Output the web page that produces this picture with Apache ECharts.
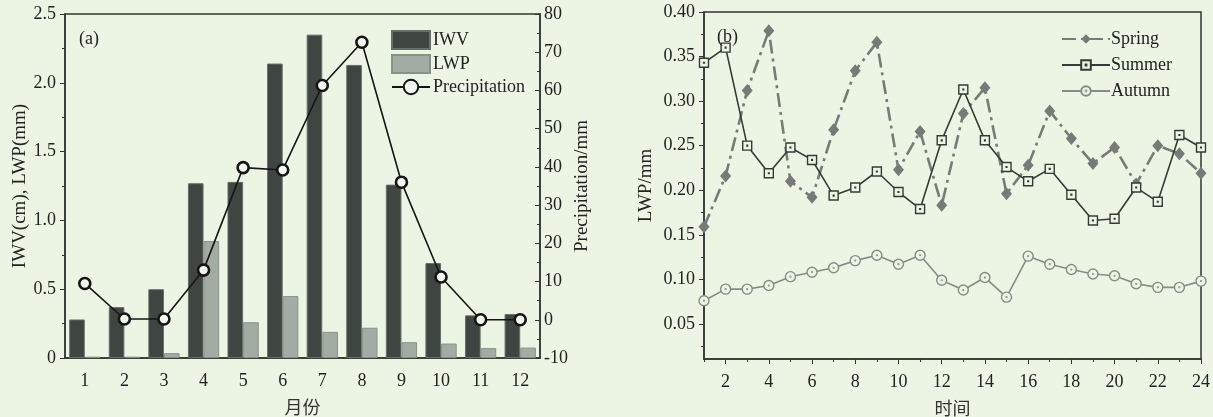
<!DOCTYPE html>
<html>
<head>
<meta charset="utf-8">
<script src="https://cdn.jsdelivr.net/npm/echarts@6/dist/echarts.min.js"></script>
<style>
html,body{margin:0;padding:0;background:#ecf5e4;}
#main{width:1213px;height:417px;}
</style>
</head>
<body>
<div id="main"></div>
<script>
// (a) 月均值
var months = ['1','2','3','4','5','6','7','8','9','10','11','12'];
var iwv = [0.28, 0.37, 0.50, 1.27, 1.28, 2.14, 2.35, 2.13, 1.26, 0.69, 0.31, 0.32];
var lwp = [0.01, 0.01, 0.035, 0.85, 0.26, 0.45, 0.19, 0.22, 0.115, 0.105, 0.072, 0.076];
var precip = [9.5, 0.2, 0.2, 13, 39.8, 39.2, 61.3, 72.6, 36, 11.2, 0, 0];

// (b) 日变化
var hours = ['1','2','3','4','5','6','7','8','9','10','11','12','13','14','15','16','17','18','19','20','21','22','23','24'];
var spring = [0.159, 0.216, 0.312, 0.379, 0.210, 0.192, 0.268, 0.334, 0.366, 0.223, 0.266, 0.183,
	0.286, 0.315, 0.196, 0.228, 0.289, 0.258, 0.230, 0.248, 0.207, 0.250, 0.241, 0.219];
var summer = [0.343, 0.360, 0.250, 0.219, 0.248, 0.234, 0.194, 0.203, 0.221, 0.198, 0.179, 0.256,
	0.313, 0.256, 0.226, 0.210, 0.224, 0.195, 0.166, 0.168, 0.203, 0.187, 0.262, 0.248];
var autumn = [0.076, 0.089, 0.089, 0.093, 0.103, 0.108, 0.113, 0.121, 0.127, 0.117, 0.127, 0.099,
	0.088, 0.102, 0.080, 0.126, 0.117, 0.111, 0.106, 0.104, 0.095, 0.091, 0.091, 0.098];
var lwpTicks = [0.05, 0.10, 0.15, 0.20, 0.25, 0.30, 0.35, 0.40];
var lwpMinor = [0.025, 0.075, 0.125, 0.175, 0.225, 0.275, 0.325, 0.375];

var bg = '#ecf5e4';
var axisColor = '#333';
var serif = 'Liberation Serif';
var cjk = 'Noto Sans CJK SC';

// 方框带点、圆圈带点的标记
var squareDot = 'path://M0,0H10V10H0Z M4.6,4.6H5.4V5.4H4.6Z';
var circleDot = 'path://M10,5A5,5,0,1,1,0,5A5,5,0,1,1,10,5Z M5.4,5A0.4,0.4,0,1,1,4.6,5A0.4,0.4,0,1,1,5.4,5Z';

var lineAxis = {lineStyle:{color:axisColor, width:1.5}};
var labelStyle = {color:'#222', fontFamily:serif, fontSize:18};
var gridA = {left:65, right:673, top:14, bottom:59, outerBoundsMode:'none', containLabel:false};
var gridB = {left:704, right:12, top:12, bottom:58, outerBoundsMode:'none', containLabel:false};

var chart = echarts.init(document.getElementById('main'));
var option = {
	backgroundColor: bg,
	animation: false,
	title: [{
		text:'(a)', left:74, top:25,
		textStyle:{fontFamily:serif, fontSize:18, fontWeight:'normal', color:'#222'}
	},{
		text:'(b)', left:712, top:23,
		textStyle:{fontFamily:serif, fontSize:18, fontWeight:'normal', color:'#222'}
	}],
	legend: [{
		data:[{name:'IWV', icon:'rect'}, {name:'LWP', icon:'rect'}, 'Precipitation'],
		orient:'vertical',
		left:386, top:25,
		itemWidth:38, itemHeight:18, itemGap:4,
		textStyle:{fontFamily:serif, fontSize:18, color:'#222', padding:[0,0,0,-2]}
	},{
		data:['Spring','Summer','Autumn'],
		orient:'vertical',
		left:1056, top:25,
		itemWidth:48, itemHeight:12, itemGap:8,
		textStyle:{fontFamily:serif, fontSize:18, color:'#222', padding:[0,0,0,-4]}
	}],
	// 0,1 画图；2,3 同位置，只用来放次刻度
	grid: [
		Object.assign({show:true, borderColor:axisColor, borderWidth:1.5}, gridA),
		Object.assign({show:true, borderColor:axisColor, borderWidth:1.5}, gridB),
		Object.assign({}, gridA),
		Object.assign({}, gridB)
	],
	xAxis: [{
		type:'category', gridIndex:0, data:months,
		name:'月份', nameLocation:'middle', nameGap:40,
		nameTextStyle:{fontFamily:cjk, fontSize:18, color:'#333'},
		axisLine:lineAxis,
		axisTick:{alignWithLabel:true, length:5, lineStyle:{color:axisColor}},
		axisLabel:Object.assign({margin:14}, labelStyle)
	},{
		type:'category', gridIndex:1, data:hours, boundaryGap:false,
		name:'时间', nameLocation:'middle', nameGap:40,
		nameTextStyle:{fontFamily:cjk, fontSize:18, color:'#333'},
		axisLine:lineAxis,
		axisTick:{length:5, interval:function(i){return i % 2 === 1;}, lineStyle:{color:axisColor}},
		axisLabel:Object.assign({margin:14, interval:function(i){return i % 2 === 1;}}, labelStyle)
	},{
		type:'category', gridIndex:2, data:months,
		axisLine:{show:false},
		axisTick:{length:3, lineStyle:{color:axisColor}},
		axisLabel:{show:false}
	},{
		type:'category', gridIndex:3, data:hours, boundaryGap:false,
		axisLine:{show:false},
		axisTick:{length:3, interval:function(i){return i % 2 === 0;}, lineStyle:{color:axisColor}},
		axisLabel:{show:false}
	}],
	yAxis: [{
		type:'value', gridIndex:0, min:0, max:2.5, interval:0.5,
		name:'IWV(cm), LWP(mm)', nameLocation:'middle', nameGap:35, nameRotate:90,
		nameTextStyle:{fontFamily:serif, fontSize:19, color:'#222'},
		axisLine:Object.assign({show:true}, lineAxis),
		axisTick:{show:true, length:5, lineStyle:{color:axisColor}},
		minorTick:{show:true, splitNumber:2, length:3, lineStyle:{color:axisColor}},
		splitLine:{show:false},
		axisLabel:Object.assign({margin:9, formatter:function(v){return v === 0 ? '0' : v.toFixed(1);}}, labelStyle)
	},{
		type:'value', gridIndex:0, min:-10, max:80, interval:10, position:'right',
		name:'Precipitation/mm', nameLocation:'middle', nameGap:33, nameRotate:90,
		nameTextStyle:{fontFamily:serif, fontSize:19, color:'#222'},
		axisLine:Object.assign({show:true}, lineAxis),
		axisTick:{show:true, inside:true, length:5, lineStyle:{color:axisColor}},
		minorTick:{show:true, splitNumber:2, length:3, lineStyle:{color:axisColor}},
		splitLine:{show:false},
		axisLabel:Object.assign({margin:4}, labelStyle)
	},{
		type:'value', gridIndex:1, min:0.0106, max:0.4,
		name:'LWP/mm', nameLocation:'middle', nameGap:48, nameRotate:90,
		nameTextStyle:{fontFamily:serif, fontSize:19, color:'#222'},
		axisLine:Object.assign({show:true}, lineAxis),
		axisTick:{show:true, length:5, customValues:lwpTicks, lineStyle:{color:axisColor}},
		splitLine:{show:false},
		axisLabel:Object.assign({margin:9, customValues:lwpTicks, formatter:function(v){return v.toFixed(2);}}, labelStyle)
	},{
		type:'value', gridIndex:2, show:false
	},{
		type:'value', gridIndex:3, min:0.0106, max:0.4,
		axisLine:{show:false},
		axisTick:{show:true, length:3, customValues:lwpMinor, lineStyle:{color:axisColor}},
		splitLine:{show:false},
		axisLabel:{show:false}
	}],
	series: [{
		name:'IWV', type:'bar', xAxisIndex:0, yAxisIndex:0,
		data:iwv, barGap:'0%', barCategoryGap:'21%',
		itemStyle:{color:'#3f4540', borderColor:'#66706a', borderWidth:1}
	},{
		name:'LWP', type:'bar', xAxisIndex:0, yAxisIndex:0,
		data:lwp,
		itemStyle:{color:'#a3aca3', borderColor:'#899289', borderWidth:1}
	},{
		name:'Precipitation', type:'line', xAxisIndex:0, yAxisIndex:1,
		data:precip, symbol:'circle', symbolSize:11, z:5,
		lineStyle:{color:'#151515', width:1.6},
		itemStyle:{color:'#f2f7ee', borderColor:'#151515', borderWidth:2.6}
	},{
		name:'Spring', type:'line', xAxisIndex:1, yAxisIndex:2,
		data:spring, symbol:'diamond', symbolSize:[11,13],
		lineStyle:{color:'#777b77', width:2.6, type:[14,5,3,5]},
		itemStyle:{color:'#777b77'}
	},{
		name:'Summer', type:'line', xAxisIndex:1, yAxisIndex:2,
		data:summer, symbol:squareDot, symbolSize:9,
		lineStyle:{color:'#363a36', width:1.6},
		itemStyle:{color:bg, borderColor:'#363a36', borderWidth:1.4}
	},{
		name:'Autumn', type:'line', xAxisIndex:1, yAxisIndex:2,
		data:autumn, symbol:circleDot, symbolSize:10,
		lineStyle:{color:'#868b86', width:1.6},
		itemStyle:{color:bg, borderColor:'#868b86', borderWidth:1.4}
	}]
};
chart.setOption(option);
</script>
</body>
</html>
